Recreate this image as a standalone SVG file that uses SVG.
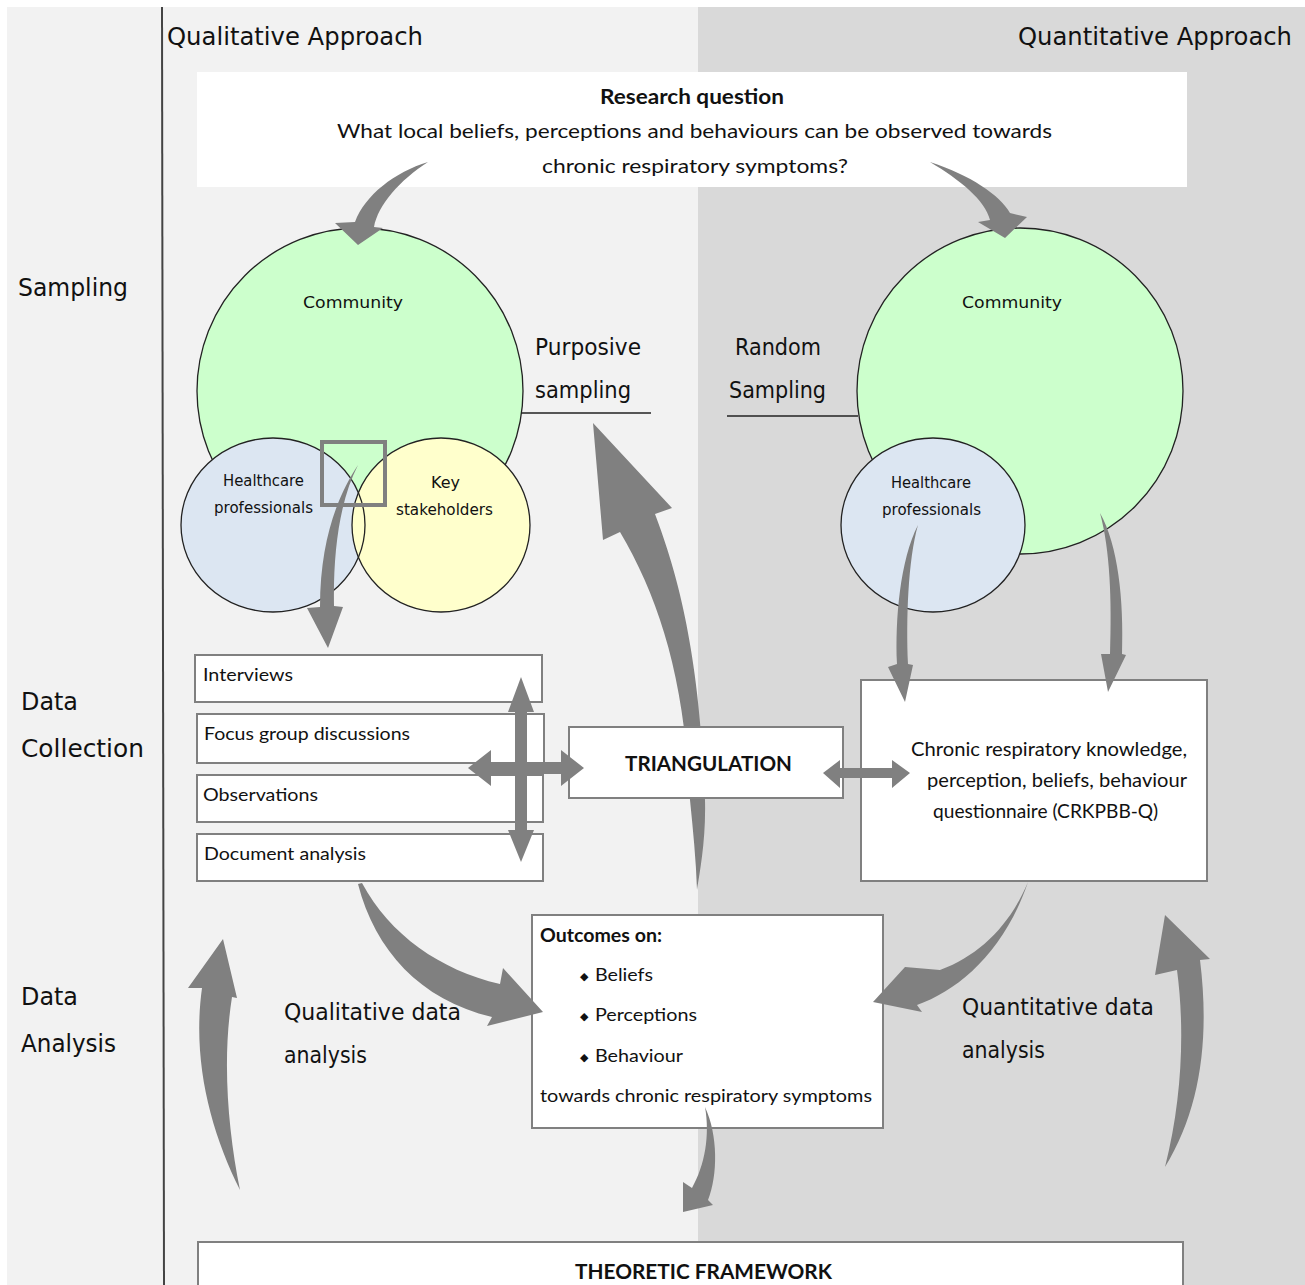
<svg xmlns="http://www.w3.org/2000/svg" width="1305" height="1285" viewBox="0 0 1305 1285">
<style>
.t{font-family:"DejaVu Sans","Liberation Sans",sans-serif;fill:#111}
.c{font-family:Lato,"Open Sans","Liberation Sans",sans-serif;fill:#111}
.b{font-weight:bold}
.box{fill:#fff;stroke:#808080;stroke-width:2}
.circ{stroke:#222;stroke-width:1.3}
.arr{fill:#808080}
</style>
<defs>
<clipPath id="noTri"><path clip-rule="evenodd" d="M0,0H1305V1285H0Z M569,727H843V798H569Z"/></clipPath>
</defs>
<rect x="0" y="0" width="1305" height="1285" fill="#fff"/>
<rect x="7" y="7" width="691" height="1278" fill="#f2f2f2"/>
<rect x="698" y="7" width="607" height="1278" fill="#d9d9d9"/>
<line x1="162" y1="7" x2="164" y2="1285" stroke="#444" stroke-width="2"/>

<text class="t" x="167" y="45" font-size="25" textLength="256" lengthAdjust="spacingAndGlyphs">Qualitative Approach</text>
<text class="t" x="1018" y="45" font-size="25" textLength="274" lengthAdjust="spacingAndGlyphs">Quantitative Approach</text>
<text class="t" x="18" y="296" font-size="25" textLength="110" lengthAdjust="spacingAndGlyphs">Sampling</text>
<text class="t" x="21" y="710" font-size="25" textLength="57" lengthAdjust="spacingAndGlyphs">Data</text>
<text class="t" x="21" y="757" font-size="25" textLength="123" lengthAdjust="spacingAndGlyphs">Collection</text>
<text class="t" x="21" y="1005" font-size="25" textLength="57" lengthAdjust="spacingAndGlyphs">Data</text>
<text class="t" x="21" y="1052" font-size="25" textLength="95" lengthAdjust="spacingAndGlyphs">Analysis</text>

<g id="research-question">
<rect x="197" y="72" width="990" height="115" fill="#fff"/>
<text class="c b" x="600" y="104" font-size="20" textLength="184" lengthAdjust="spacingAndGlyphs">Research question</text>
<text class="c" x="337" y="138" font-size="20" textLength="715" lengthAdjust="spacingAndGlyphs">What local beliefs, perceptions and behaviours can be observed towards</text>
<text class="c" x="542" y="173" font-size="20" textLength="306" lengthAdjust="spacingAndGlyphs">chronic respiratory symptoms?</text>
</g>

<g id="qual-community">
<circle class="circ" cx="360" cy="391" r="163" fill="#ccffcc"/>
<text class="t" x="303" y="308" font-size="16" textLength="100" lengthAdjust="spacingAndGlyphs">Community</text>
</g>
<g id="qual-healthcare">
<ellipse cx="273" cy="525" rx="92" ry="87" fill="#dce6f2"/>
</g>
<g id="qual-stakeholders">
<ellipse cx="441" cy="525" rx="89" ry="87" fill="#ffffcc"/>
<ellipse class="circ" cx="273" cy="525" rx="92" ry="87" fill="none"/>
<ellipse class="circ" cx="441" cy="525" rx="89" ry="87" fill="none"/>
<text class="t" x="431" y="488" font-size="15" textLength="29" lengthAdjust="spacingAndGlyphs">Key</text>
<text class="t" x="396" y="515" font-size="15" textLength="97" lengthAdjust="spacingAndGlyphs">stakeholders</text>
<text class="t" x="223" y="486" font-size="15" textLength="81" lengthAdjust="spacingAndGlyphs">Healthcare</text>
<text class="t" x="214" y="513" font-size="15" textLength="99" lengthAdjust="spacingAndGlyphs">professionals</text>
</g>
<g id="intersection">
<rect x="322" y="442" width="63" height="63" fill="none" stroke="#808080" stroke-width="4"/>
</g>

<g id="purposive-label">
<text class="t" x="535" y="355" font-size="23" textLength="106" lengthAdjust="spacingAndGlyphs">Purposive</text>
<text class="t" x="535" y="398" font-size="23" textLength="96" lengthAdjust="spacingAndGlyphs">sampling</text>
<line x1="521" y1="413" x2="651" y2="413" stroke="#222" stroke-width="1.3"/>
</g>
<g id="random-label">
<text class="t" x="735" y="355" font-size="23" textLength="86" lengthAdjust="spacingAndGlyphs">Random</text>
<text class="t" x="729" y="398" font-size="23" textLength="97" lengthAdjust="spacingAndGlyphs">Sampling</text>
<line x1="727" y1="416" x2="858" y2="416" stroke="#222" stroke-width="1.3"/>
</g>

<g id="quant-community">
<circle class="circ" cx="1020" cy="391" r="163" fill="#ccffcc"/>
<text class="t" x="962" y="308" font-size="16" textLength="100" lengthAdjust="spacingAndGlyphs">Community</text>
</g>
<g id="quant-healthcare">
<ellipse class="circ" cx="933" cy="525" rx="92" ry="87" fill="#dce6f2"/>
<text class="t" x="891" y="488" font-size="15" textLength="80" lengthAdjust="spacingAndGlyphs">Healthcare</text>
<text class="t" x="882" y="515" font-size="15" textLength="99" lengthAdjust="spacingAndGlyphs">professionals</text>
</g>

<g id="interviews"><rect class="box" x="195" y="655" width="347" height="47"/><text class="c" x="203" y="681" font-size="18" textLength="90" lengthAdjust="spacingAndGlyphs">Interviews</text></g>
<g id="focus-groups"><rect class="box" x="197" y="714" width="347" height="49"/><text class="c" x="204" y="740" font-size="18" textLength="206" lengthAdjust="spacingAndGlyphs">Focus group discussions</text></g>
<g id="observations"><rect class="box" x="197" y="775" width="346" height="47"/><text class="c" x="203" y="801" font-size="18" textLength="115" lengthAdjust="spacingAndGlyphs">Observations</text></g>
<g id="document-analysis"><rect class="box" x="197" y="834" width="346" height="47"/><text class="c" x="204" y="860" font-size="18" textLength="162" lengthAdjust="spacingAndGlyphs">Document analysis</text></g>

<g id="triangulation"><rect class="box" x="569" y="727" width="274" height="71"/><text class="c b" x="625" y="771" font-size="21" textLength="167" lengthAdjust="spacingAndGlyphs">TRIANGULATION</text></g>

<g id="questionnaire"><rect class="box" x="861" y="680" width="346" height="201"/>
<text class="c" x="911" y="756" font-size="19" textLength="276" lengthAdjust="spacingAndGlyphs">Chronic respiratory  knowledge,</text>
<text class="c" x="927" y="787" font-size="19" textLength="260" lengthAdjust="spacingAndGlyphs">perception, beliefs, behaviour</text>
<text class="c" x="933" y="818" font-size="19" textLength="225" lengthAdjust="spacingAndGlyphs">questionnaire (CRKPBB-Q)</text>
</g>

<g id="outcomes"><rect class="box" x="532" y="915" width="351" height="213"/>
<text class="c b" x="540" y="942" font-size="18" textLength="122" lengthAdjust="spacingAndGlyphs">Outcomes on:</text>
<text class="t" x="580" y="980" font-size="11">◆</text>
<text class="c" x="595" y="981" font-size="18" textLength="58" lengthAdjust="spacingAndGlyphs">Beliefs</text>
<text class="t" x="580" y="1020" font-size="11">◆</text>
<text class="c" x="595" y="1021" font-size="18" textLength="102" lengthAdjust="spacingAndGlyphs">Perceptions</text>
<text class="t" x="580" y="1061" font-size="11">◆</text>
<text class="c" x="595" y="1062" font-size="18" textLength="88" lengthAdjust="spacingAndGlyphs">Behaviour</text>
<text class="c" x="540" y="1102" font-size="18" textLength="332" lengthAdjust="spacingAndGlyphs">towards chronic respiratory symptoms</text>
</g>

<g id="qual-analysis-label">
<text class="t" x="284" y="1020" font-size="23" textLength="177" lengthAdjust="spacingAndGlyphs">Qualitative data</text>
<text class="t" x="284" y="1063" font-size="23" textLength="83" lengthAdjust="spacingAndGlyphs">analysis</text>
</g>
<g id="quant-analysis-label">
<text class="t" x="962" y="1015" font-size="23" textLength="192" lengthAdjust="spacingAndGlyphs">Quantitative data</text>
<text class="t" x="962" y="1058" font-size="23" textLength="83" lengthAdjust="spacingAndGlyphs">analysis</text>
</g>

<g id="theoretic-framework"><rect class="box" x="198" y="1242" width="985" height="60"/>
<text class="c b" x="575" y="1279" font-size="20" textLength="257" lengthAdjust="spacingAndGlyphs">THEORETIC FRAMEWORK</text>
</g>

<g id="connectors">
<path class="arr" d="M428,162 C395,172 365,195 355,222 L335,223 L358,245 L383,228 L374,227 C378,205 400,180 428,162 Z"/>
<path class="arr" d="M930,162 C970,175 1000,195 1010,213 L1027,217 L1005,238 L978,222 L990,220 C985,200 960,180 930,162 Z"/>
<path class="arr" d="M358,465 C338,495 320,540 320,607 L307,608 L328,648 L343,607 L334,606 C333,550 340,500 358,465 Z"/>
<path class="arr" d="M918,525 C900,560 895,620 897,664 L888,667 L905,702 L913,665 L908,664 C906,620 908,560 918,525 Z"/>
<path class="arr" d="M1100,513 C1118,545 1124,600 1122,654 L1126,655 L1108,692 L1101,654 L1110,654 C1112,600 1110,550 1100,513 Z"/>
<path class="arr" d="M521,677 L534,712 L527,712 L527,762 L561,762 L561,750 L584,768 L561,786 L561,774 L527,774 L527,830 L534,830 L521,862 L508,830 L515,830 L515,774 L491,774 L491,786 L468,768 L491,750 L491,762 L515,762 L515,712 L508,712 Z"/>
<path class="arr" d="M823,773 L840,760 L840,768 L892,768 L892,760 L910,773 L892,788 L892,778 L840,778 L840,788 Z"/>
<path class="arr" clip-path="url(#noTri)" d="M593,423 L672,508 L655,514 C680,580 700,660 705,800 C706,840 700,870 697,890 C696,860 693,830 690,800 C685,680 660,600 620,532 L603,540 Z"/>
<path class="arr" d="M362,883 C390,935 440,970 500,984 L503,968 L543,1012 L487,1026 L492,1017 C420,1000 375,950 358,884 Z"/>
<path class="arr" d="M1028,882 C1010,925 980,955 940,970 L905,967 L873,1002 L922,1012 L917,1005 C960,990 1005,950 1028,882 Z"/>
<path class="arr" d="M705,1107 C718,1135 718,1175 708,1200 L713,1205 L683,1212 L683,1182 L692,1188 C705,1165 710,1135 705,1107 Z"/>
<path class="arr" d="M1165,915 L1210,959 L1200,960 C1210,1040 1200,1110 1165,1167 C1182,1100 1185,1030 1177,970 L1155,975 Z"/>
<path class="arr" d="M223,939 L237,998 L232,997 C222,1060 228,1130 240,1190 C210,1130 192,1060 202,988 L188,988 Z"/>
</g>
</svg>
